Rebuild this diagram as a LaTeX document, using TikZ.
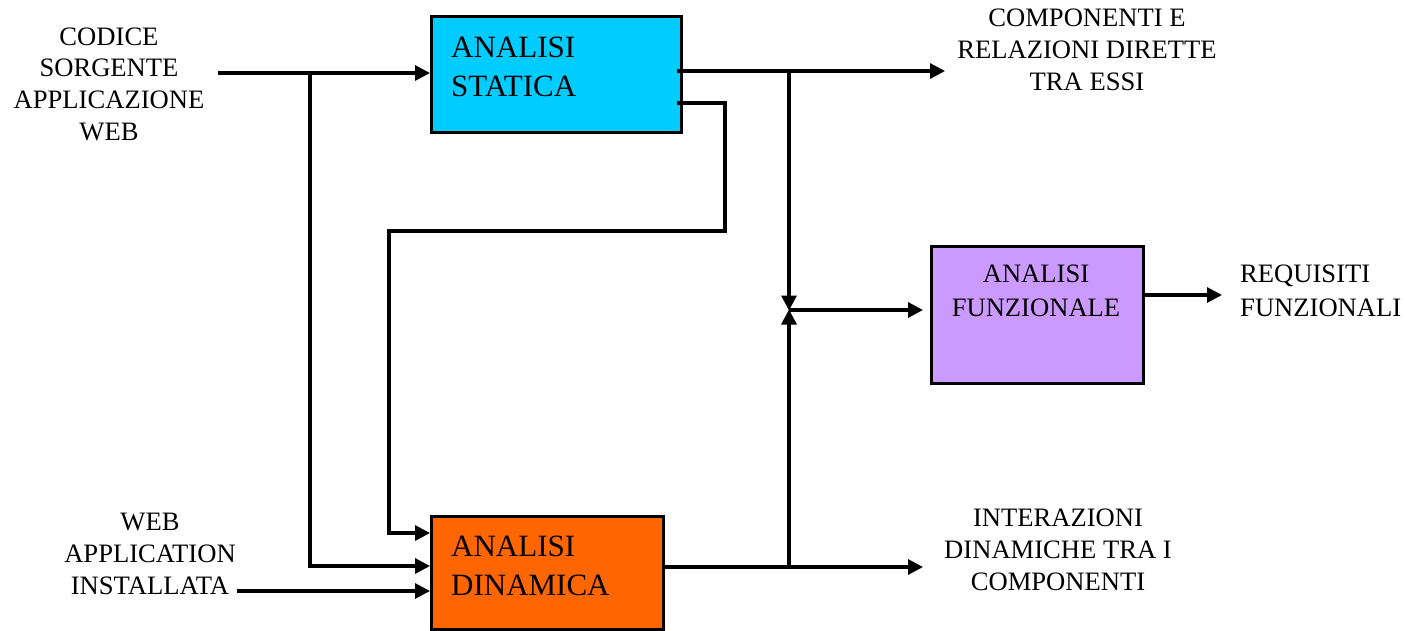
\documentclass[tikz,border=0pt]{standalone}
\usepackage{fontspec}
\setmainfont{Liberation Serif}
\usetikzlibrary{arrows.meta}
\definecolor{statcol}{HTML}{00CCFF}
\definecolor{dyncol}{HTML}{FF6600}
\definecolor{funcol}{HTML}{CC99FF}
\tikzset{
  blockbox/.style={draw=black, line width=2.8pt, inner sep=0pt, anchor=north west},
  boxtext/.style={inner sep=0pt, align=left, font=\fontsize{31}{38.5}\selectfont},
  lbl/.style={inner sep=0pt, align=center, font=\fontsize{26.6}{31.6}\selectfont},
  arr/.style={line width=3.2pt, -{Triangle[length=15pt,width=15pt]}}
}
\begin{document}
\begin{tikzpicture}[x=1pt,y=-1pt]
\useasboundingbox (0,0) rectangle (1405,630);

% processing blocks
\node[blockbox, fill=statcol, minimum width=250pt, minimum height=116pt] (static) at (430,15) {};
\node[blockbox, fill=dyncol, minimum width=232pt, minimum height=113pt] (dynamic) at (430,515) {};
\node[blockbox, fill=funcol, minimum width=212pt, minimum height=137pt] (funz) at (930,245) {};

% block captions (anchored on the last line's baseline)
\node[boxtext, anchor=base west] (static-t) at (451,96) {ANALISI\\STATICA};
\node[boxtext, anchor=base west] (dynamic-t) at (451,595) {ANALISI\\DINAMICA};
\node[lbl, anchor=base] (funz-t) at (1036,316) {ANALISI\\[1.5pt]FUNZIONALE};

% inputs and outputs
\node[lbl, anchor=base] (codice) at (109,140) {CODICE\\SORGENTE\\APPLICAZIONE\\WEB};
\node[lbl, anchor=base] (webapp) at (150,594) {WEB\\APPLICATION\\INSTALLATA};
\node[lbl, anchor=base] (comp) at (1087,90) {COMPONENTI E\\RELAZIONI DIRETTE\\TRA ESSI};
\node[lbl, anchor=base] (inter) at (1058,590) {INTERAZIONI\\DINAMICHE TRA I\\COMPONENTI};
\node[lbl, anchor=base west, align=left] (req) at (1240,316) {REQUISITI\\[1.5pt]FUNZIONALI};

% routing points
\coordinate (cin) at (218,73);
\coordinate (csplit) at (310,73);
\coordinate (win) at (237,591);
\coordinate (sout1) at (677,71);
\coordinate (sout2) at (677,103);
\coordinate (cend) at (945,71);
\coordinate (sjoin) at (789,71);
\coordinate (meet) at (789,310);
\coordinate (dout) at (662,567);
\coordinate (djoin) at (789,567);
\coordinate (iend) at (923,567);
\coordinate (rend) at (1222,295);

% source code to static analysis, with branch to dynamic analysis
\draw[arr] (cin) -- (static.west |- cin);
\draw[arr] (csplit) -- (310,566) -- (dynamic.west |- 0,566);
% installed application to dynamic analysis
\draw[arr] (win) -- (dynamic.west |- win);
% static results fed to dynamic analysis
\draw[arr] (sout2) -- (725,103) -- (725,231) -- (389,231) -- (389,533) -- (dynamic.west |- 0,533);
% static analysis outputs
\draw[arr] (sout1) -- (cend);
\draw[arr] (sjoin) -- ([yshift=-0.5pt]meet);
% dynamic analysis outputs
\draw[arr] (dout) -- (iend);
\draw[arr] (djoin) -- ([yshift=0.5pt]meet);
% merged results to functional analysis
\draw[arr] (meet) -- (923,310);
\draw[arr] (funz.east |- rend) -- (rend);
\end{tikzpicture}
\end{document}
